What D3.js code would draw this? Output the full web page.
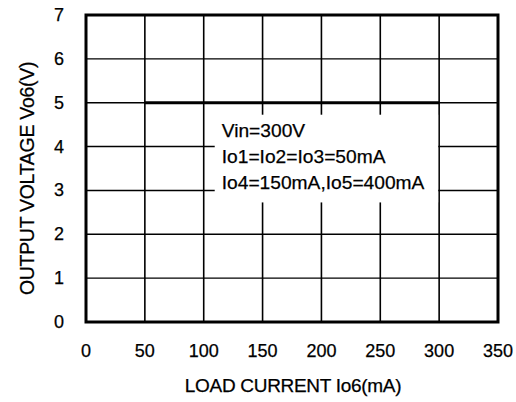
<!DOCTYPE html>
<html>
<head>
<meta charset="utf-8">
<script src="https://cdn.jsdelivr.net/npm/d3@7"></script>
<style>
  body { margin: 0; background: #fff; }
  text { font-family: "Liberation Sans", Arial, sans-serif; fill: #000; stroke: #000; stroke-width: 0.25; }
</style>
</head>
<body>
<div id="chart"></div>
<script>
var xTicks = [0, 50, 100, 150, 200, 250, 300, 350];
var yTicks = [0, 1, 2, 3, 4, 5, 6, 7];
var loadCurrent = [50, 300];
var outputVoltage = [5, 5];
var notes = ["Vin=300V", "Io1=Io2=Io3=50mA", "Io4=150mA,Io5=400mA"];

var width = 516, height = 402,
    margins = {top: 15, right: 18, bottom: 80, left: 86},
    w = width - margins.left - margins.right,
    h = height - margins.top - margins.bottom;

var svg = d3.select("#chart").append("svg")
    .attr("width", width)
    .attr("height", height);

var g = svg.append("g")
    .attr("transform", "translate(" + margins.left + "," + margins.top + ")");

var x = d3.scaleLinear().domain([0, 350]).range([0, w]);
var y = d3.scaleLinear().domain([0, 7]).range([h, 0]);

// grid
g.selectAll(".vgrid").data(xTicks).enter().append("line")
    .attr("x1", function(d) { return x(d); })
    .attr("x2", function(d) { return x(d); })
    .attr("y1", 0).attr("y2", h)
    .attr("stroke", "#000").attr("stroke-width", 1.6);

g.selectAll(".hgrid").data(yTicks).enter().append("line")
    .attr("y1", function(d) { return y(d); })
    .attr("y2", function(d) { return y(d); })
    .attr("x1", 0).attr("x2", w)
    .attr("stroke", "#000").attr("stroke-width", 1.4);

// data line
var line = d3.line()
    .x(function(d, i) { return x(d); })
    .y(function(d, i) { return y(outputVoltage[i]); });

g.append("path")
    .datum(loadCurrent)
    .attr("d", line)
    .attr("fill", "none")
    .attr("stroke", "#000")
    .attr("stroke-width", 3);

// note box
var bx = x(100) + 11, by = y(5) + 12;
var box = g.append("g").attr("transform", "translate(" + bx + "," + by + ")");
box.append("rect")
    .attr("width", x(300) - bx - 1)
    .attr("height", y(3) + 12 - by)
    .attr("fill", "#fff");
box.selectAll("text").data(notes).enter().append("text")
    .attr("x", 7)
    .attr("y", function(d, i) { return 22 + i * 26; })
    .attr("font-size", 19.2)
    .text(function(d) { return d; });

// frame
g.append("rect")
    .attr("width", w).attr("height", h)
    .attr("fill", "none")
    .attr("stroke", "#000")
    .attr("stroke-width", 3);

// tick labels
g.selectAll(".xlab").data(xTicks).enter().append("text")
    .attr("x", function(d) { return x(d); })
    .attr("y", h + 35)
    .attr("text-anchor", "middle")
    .attr("font-size", 18)
    .text(function(d) { return d; });

g.selectAll(".ylab").data(yTicks).enter().append("text")
    .attr("x", -22)
    .attr("y", function(d) { return y(d) + 6; })
    .attr("text-anchor", "end")
    .attr("font-size", 18)
    .text(function(d) { return d; });

// axis titles
g.append("text")
    .attr("x", x(175) + 1)
    .attr("y", h + 70)
    .attr("text-anchor", "middle")
    .attr("font-size", 19)
    .attr("letter-spacing", -0.3)
    .text("LOAD CURRENT Io6(mA)");

g.append("text")
    .attr("transform", "translate(" + (-52) + "," + (h / 2 + 10) + ") rotate(-90)")
    .attr("text-anchor", "middle")
    .attr("font-size", 19.5)
    .attr("letter-spacing", -0.3)
    .text("OUTPUT VOLTAGE Vo6(V)");
</script>
</body>
</html>
